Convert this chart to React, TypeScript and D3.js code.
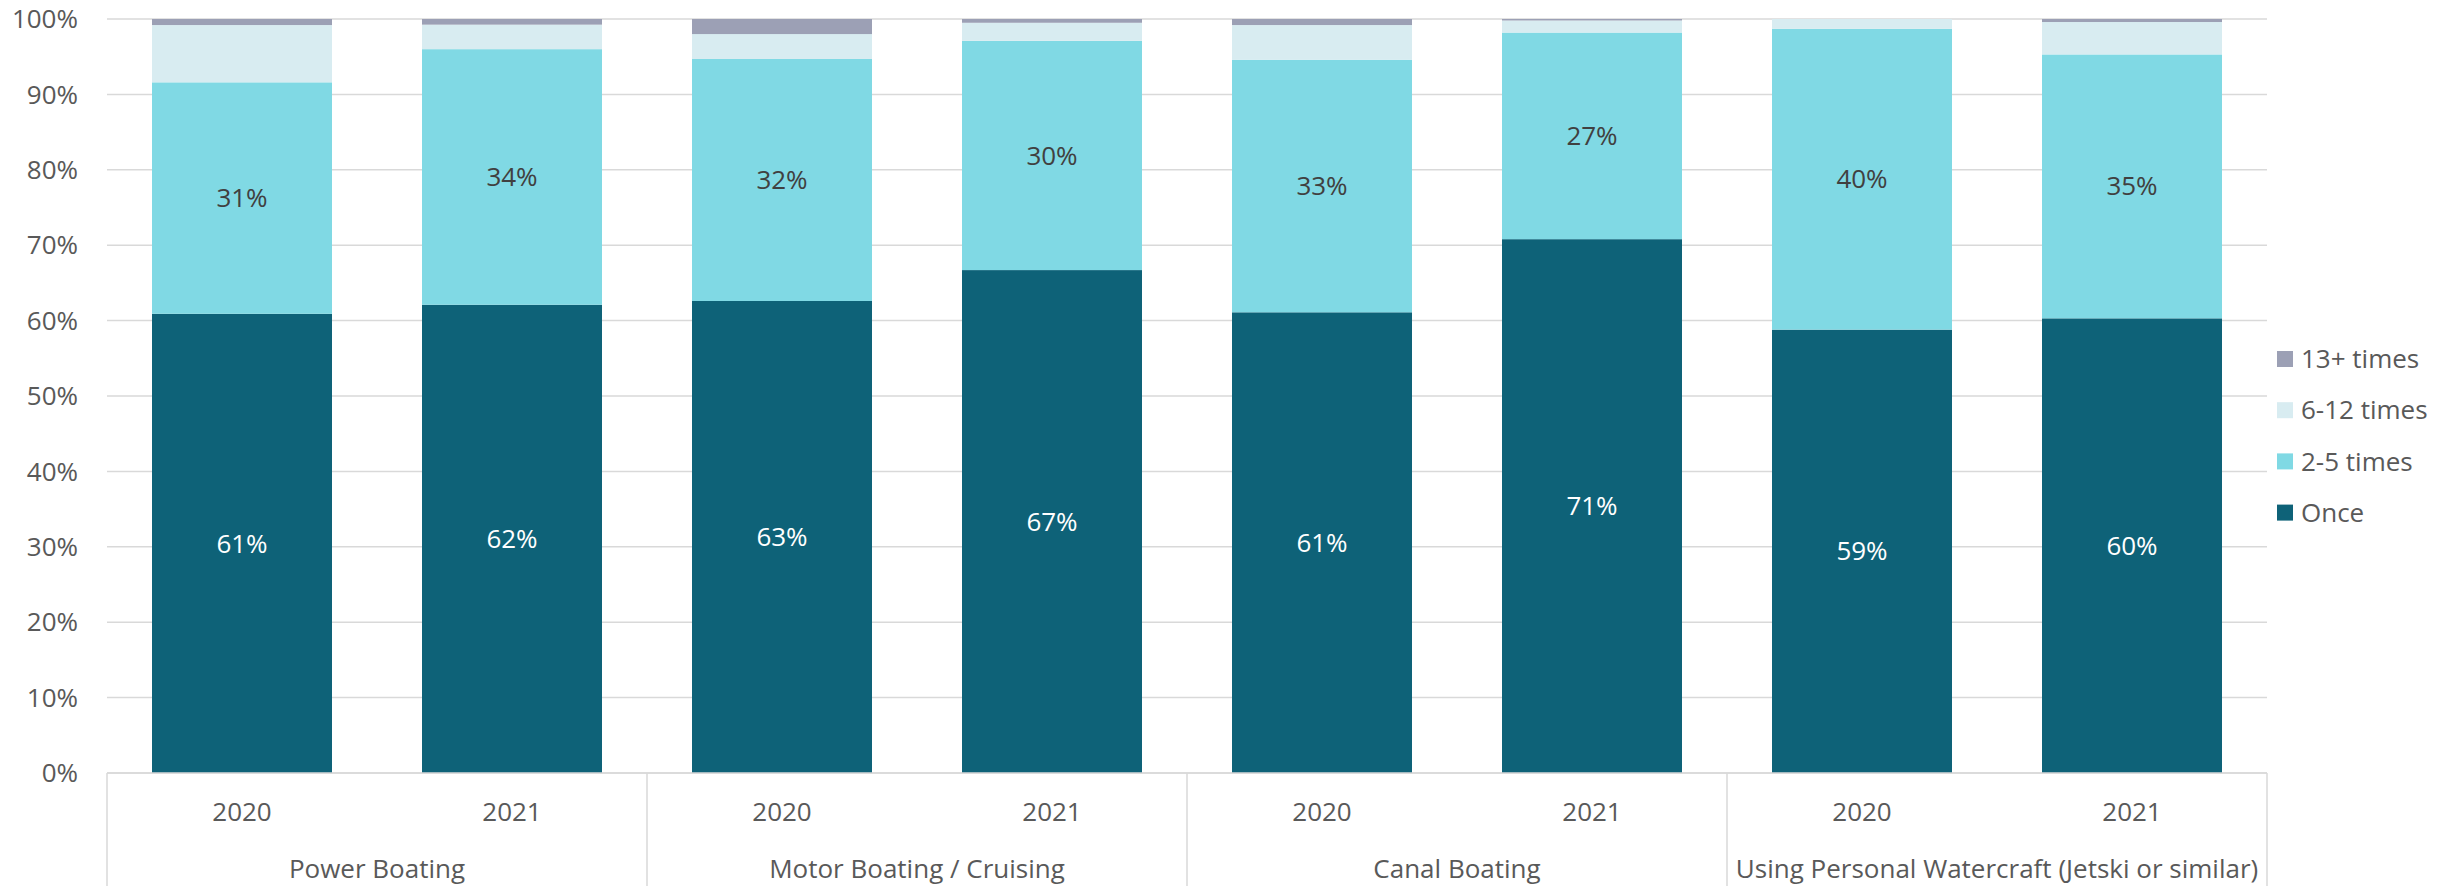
import React from "react";
import * as d3 from "d3";

const groups = ["Power Boating", "Motor Boating / Cruising", "Canal Boating", "Using Personal Watercraft (Jetski or similar)"];
const years = ["2020", "2021"];
const seriesNames = ["Once", "2-5 times", "6-12 times", "13+ times"];
const colors = ["#0e6278", "#80d9e4", "#d8ecf1", "#9ca0b5"];

// values per bar, order: Power 2020, Power 2021, Motor 2020, Motor 2021, Canal 2020, Canal 2021, PWC 2020, PWC 2021
const once = [60.9, 62.1, 62.6, 66.7, 61.1, 70.8, 58.8, 60.3];
const twoToFive = [30.7, 33.9, 32.1, 30.4, 33.5, 27.4, 39.9, 35.0];
const sixToTwelve = [7.6, 3.25, 3.3, 2.4, 4.6, 1.6, 1.3, 4.3];
const thirteenPlus = [0.8, 0.75, 2.0, 0.5, 0.8, 0.2, 0.0, 0.4];
const yTicks = [0, 10, 20, 30, 40, 50, 60, 70, 80, 90, 100];

const W = 2448, H = 887;
const left = 107, right = 2267, top = 19, bottom = 773;
const FONT = "'Segoe UI', 'Open Sans', sans-serif";

export default function App() {
  const series = [once, twoToFive, sixToTwelve, thirteenPlus];
  const bars = groups.flatMap((g, gi) => years.map((y, yi) => ({ g, y, i: gi * 2 + yi })));
  const x = d3.scaleBand<number>().domain(bars.map(b => b.i)).range([left, right]).paddingInner(1 / 3).paddingOuter(1 / 6);
  const y = d3.scaleLinear().domain([0, 100]).range([bottom, top]);
  const gx = d3.scaleBand<number>().domain(groups.map((_, i) => i)).range([left, right]);

  const stackData = bars.map(b => {
    const o: any = { i: b.i };
    seriesNames.forEach((s, si) => (o[s] = series[si][b.i]));
    return o;
  });
  const stacked = d3.stack<any>().keys(seriesNames)(stackData);

  return (
    <svg width={W} height={H} style={{ position: "absolute", left: 0, top: 0, background: "#fff" }} fontFamily={FONT}>
      {yTicks.map(t => (
        <g key={t}>
          <line x1={left} x2={right} y1={y(t)} y2={y(t)} stroke="#d9d9d9" strokeWidth={1.5} />
          <text x={78} y={y(t)} dy="0.35em" textAnchor="end" fontSize={26} fill="#595959">{t}%</text>
        </g>
      ))}
      {stacked.map((layer, li) => (
        <g key={li} fill={colors[li]}>
          {layer.map((d, di) => (
            <rect key={di} x={x(di)} width={x.bandwidth()} y={y(d[1])} height={Math.max(0, y(d[0]) - y(d[1]))} />
          ))}
        </g>
      ))}
      {stacked.slice(0, 2).map((layer, li) => (
        <g key={"l" + li}>
          {layer.map((d, di) => (
            <text key={di} x={(x(di) as number) + x.bandwidth() / 2} y={y((d[0] + d[1]) / 2)} dy="0.35em" textAnchor="middle" fontSize={26} fill={li === 0 ? "#ffffff" : "#404040"}>
              {Math.round(d[1] - d[0])}%
            </text>
          ))}
        </g>
      ))}
      <line x1={left} x2={right} y1={bottom} y2={bottom} stroke="#d9d9d9" strokeWidth={1.5} />
      {d3.range(groups.length + 1).map(i => {
        const xx = i < groups.length ? (gx(i) as number) : right;
        return <line key={i} x1={xx} x2={xx} y1={bottom} y2={886} stroke="#d9d9d9" strokeWidth={1.5} />;
      })}
      {bars.map(b => (
        <text key={b.i} x={(x(b.i) as number) + x.bandwidth() / 2} y={812} dy="0.35em" textAnchor="middle" fontSize={26} fill="#595959">{b.y}</text>
      ))}
      {groups.map((g, gi) => (
        <text key={g} x={(gx(gi) as number) + gx.bandwidth() / 2} y={869} dy="0.35em" textAnchor="middle" fontSize={26} fill="#595959">{g}</text>
      ))}
      {seriesNames.slice().reverse().map((s, k) => {
        const si = seriesNames.length - 1 - k;
        const cy = 359 + k * 51.2;
        return (
          <g key={s}>
            <rect x={2277} y={cy - 8} width={16} height={16} fill={colors[si]} />
            <text x={2301} y={cy} dy="0.35em" fontSize={26} fill="#595959">{s}</text>
          </g>
        );
      })}
    </svg>
  );
}
